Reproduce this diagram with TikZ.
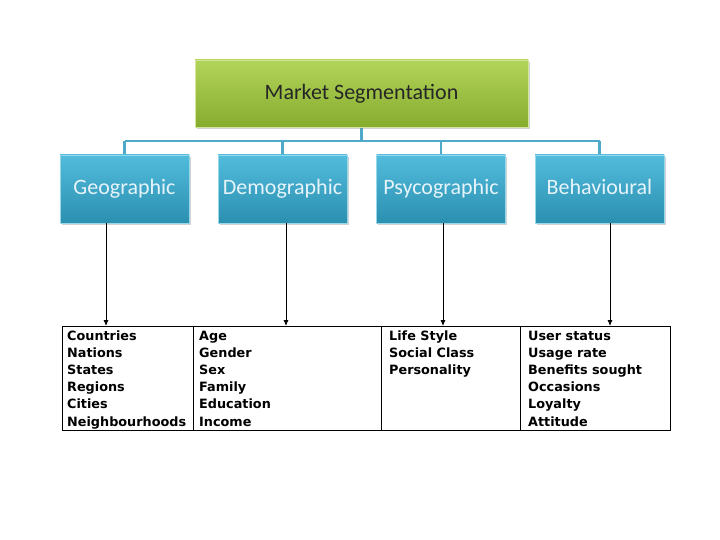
\documentclass[tikz,border=0pt]{standalone}
\usepackage{fontspec}
\setmainfont{Carlito}
\newfontfamily\listfont{DejaVu Sans}
\usetikzlibrary{arrows.meta,shadows}
\definecolor{gtop}{HTML}{B2D45A}
\definecolor{gbot}{HTML}{86AC2E}
\definecolor{btop}{HTML}{52BCDC}
\definecolor{bbot}{HTML}{2B8FB0}
\definecolor{linkc}{HTML}{4FA9C9}
\definecolor{btext}{HTML}{E6F4FA}
\tikzset{
  topbox/.style={draw=gtop!60!white, line width=0.8pt, top color=gtop, bottom color=gbot,
    minimum width=333pt, minimum height=67pt, inner sep=0pt,
    text height=16pt, text depth=4pt,
    font=\fontsize{22}{26}\selectfont, text=black!85,
    drop shadow={shadow xshift=1.5pt, shadow yshift=-2pt, opacity=0.35}},
  catbox/.style={draw=btop!60!white, line width=0.8pt, top color=btop, bottom color=bbot,
    minimum width=129pt, minimum height=68pt, inner sep=0pt,
    text height=16pt, text depth=4pt,
    font=\fontsize{22}{26}\selectfont, text=btext,
    drop shadow={shadow xshift=1.5pt, shadow yshift=-2pt, opacity=0.35}},
  link/.style={draw=linkc, line width=2.4pt},
  arr/.style={draw=black, line width=0.8pt, -{Latex[length=6pt,width=5pt]}},
  listtext/.style={anchor=base west, inner sep=0pt,
    font=\listfont\bfseries\fontsize{12.8}{14}\selectfont},
}
\begin{document}
\begin{tikzpicture}[x=1pt,y=-1pt]
\useasboundingbox (0,0) rectangle (720,540);
\fill[white] (0,0) rectangle (720,540);

\coordinate (hb) at (361.5,141);
\coordinate (hl) at (124.5,141);
\coordinate (hr) at (599.5,141);

\draw[link] (361.5,127) -- (hb);
\draw[link] (hl) -- (hr);
\draw[link] (hl) -- (124.5,155);
\draw[link] (282.5,141) -- (282.5,155);
\draw[link] (441,141) -- (441,155);
\draw[link] (hr) -- (599.5,155);

\node[topbox] (ms) at (361.5,93.5) {Market Segmentation};
\node[catbox] (geo) at (124.5,189) {Geographic};
\node[catbox] (dem) at (282.5,189) {Demographic};
\node[catbox] (psy) at (441,189) {Psycographic};
\node[catbox] (beh) at (599.5,189) {Behavioural};

% table
\node[draw=black, line width=0.8pt, minimum width=608pt, minimum height=104pt, inner sep=0pt] (tab) at (366,378) {};
\draw[line width=0.8pt] (193,326) -- (193,430);
\draw[line width=0.8pt] (381,326) -- (381,430);
\draw[line width=0.8pt] (520,326) -- (520,430);

\coordinate (a1) at (106,326);
\coordinate (a2) at (286,326);
\coordinate (a3) at (443,326);
\coordinate (a4) at (610,326);
\draw[arr] (geo.south -| a1) -- (a1);
\draw[arr] (dem.south -| a2) -- (a2);
\draw[arr] (psy.south -| a3) -- (a3);
\draw[arr] (beh.south -| a4) -- (a4);

\foreach \t [count=\i from 0] in {Countries,Nations,States,Regions,Cities,Neighbourhoods}
  \node[listtext] (g\i) at (67,340+17.2*\i) {\t};
\foreach \t [count=\i from 0] in {Age,Gender,Sex,Family,Education,Income}
  \node[listtext] (d\i) at (199,340+17.2*\i) {\t};
\foreach \t [count=\i from 0] in {Life Style,Social Class,Personality}
  \node[listtext] (p\i) at (389,340+17.2*\i) {\t};
\foreach \t [count=\i from 0] in {User status,Usage rate,Benefits sought,Occasions,Loyalty,Attitude}
  \node[listtext] (b\i) at (528,340+17.2*\i) {\t};
\end{tikzpicture}
\end{document}
